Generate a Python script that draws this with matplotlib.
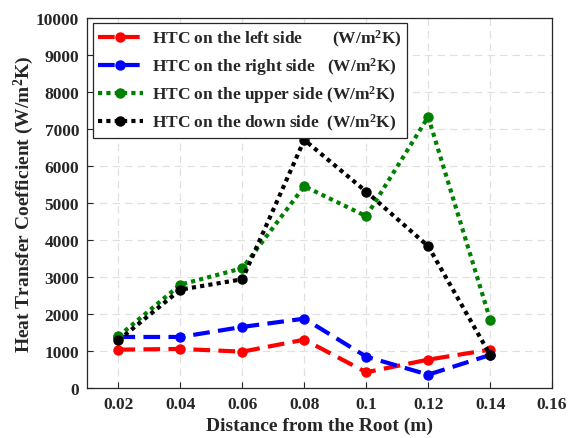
import numpy as np
import matplotlib
matplotlib.use("Agg")
import matplotlib.pyplot as plt

# --- DATA ---
distance = [0.02, 0.04, 0.06, 0.08, 0.10, 0.12, 0.14]
htc_left = [1035, 1054, 981, 1305, 424, 765, 1035]
htc_right = [1378, 1378, 1649, 1873, 846, 359, 892]
htc_upper = [1397, 2792, 3235, 5451, 4640, 7324, 1846]
htc_down = [1289, 2657, 2937, 6703, 5305, 3830, 892]

labels = [
    r"HTC on the left side       (W/m$^{\mathbf{2}}$K)",
    r"HTC on the right side   (W/m$^{\mathbf{2}}$K)",
    r"HTC on the upper side (W/m$^{\mathbf{2}}$K)",
    r"HTC on the down side  (W/m$^{\mathbf{2}}$K)",
]

plt.rcParams['font.family'] = 'Liberation Serif'
plt.rcParams['font.weight'] = 'bold'
plt.rcParams['axes.labelweight'] = 'bold'
plt.rcParams['mathtext.fontset'] = 'custom'
plt.rcParams['mathtext.rm'] = 'Liberation Serif:bold'
plt.rcParams['mathtext.bf'] = 'Liberation Serif:bold'
plt.rcParams['mathtext.default'] = 'bf'

txt = '#262626'

fig = plt.figure(figsize=(5.68, 4.39), dpi=100)
ax = fig.add_axes([0.154, 0.114, 0.818, 0.843])

ax.plot(distance, htc_left, color='red', linestyle=(0, (4, 2)), linewidth=3,
        marker='o', markersize=6.5, label=labels[0])
ax.plot(distance, htc_right, color='blue', linestyle=(0, (4, 2)), linewidth=3,
        marker='o', markersize=6.5, label=labels[1])
ax.plot(distance, htc_upper, color='green', linestyle=(0, (1, 1)), linewidth=3,
        marker='o', markersize=6.5, label=labels[2])
ax.plot(distance, htc_down, color='black', linestyle=(0, (1, 1)), linewidth=3,
        marker='o', markersize=6.5, label=labels[3])

ax.set_xlim(0.01, 0.16)
ax.set_ylim(0, 10000)
ax.set_xticks([0.02, 0.04, 0.06, 0.08, 0.1, 0.12, 0.14, 0.16])
ax.set_xticklabels(['0.02', '0.04', '0.06', '0.08', '0.1', '0.12', '0.14', '0.16'])
ax.set_yticks(np.arange(0, 10001, 1000))

ax.grid(True, linestyle=(0, (6, 4)), color='#e0e0e0', linewidth=0.9)
ax.tick_params(direction='in', length=4, width=0.8, labelsize=12.5, colors=txt,
               labelcolor=txt, pad=6)
for sp in ax.spines.values():
    sp.set_color(txt)
    sp.set_linewidth(0.9)

ax.set_xlabel('Distance from the Root (m)', fontsize=14, color=txt, labelpad=3)
ax.set_ylabel(r'Heat Transfer Coefficient (W/m$^{\mathbf{2}}$K)', fontsize=14,
              color=txt, labelpad=0)

leg = ax.legend(loc='upper left', fontsize=12.5, frameon=True, fancybox=False,
                edgecolor=txt, framealpha=1, handlelength=2.6, borderpad=0.3,
                labelspacing=0.35, handletextpad=0.5, borderaxespad=0.3)
leg.get_frame().set_linewidth(0.9)
for t in leg.get_texts():
    t.set_color(txt)

fig.savefig('out.png', dpi=100)
